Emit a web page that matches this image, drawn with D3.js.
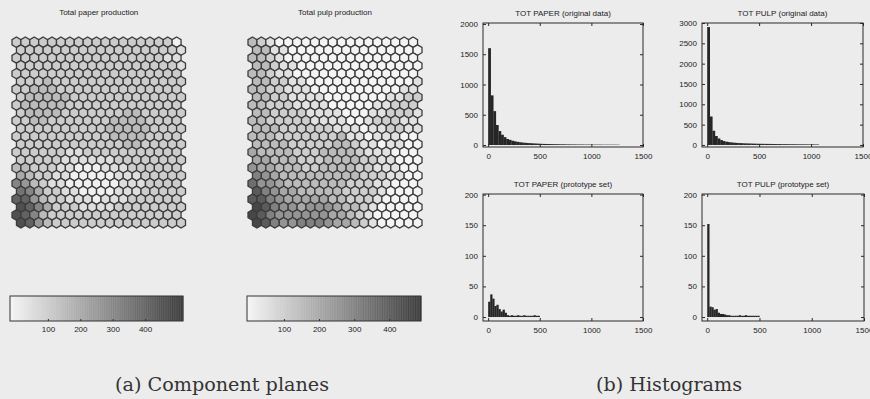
<!DOCTYPE html>
<html>
<head>
<meta charset="utf-8">
<script src="https://cdn.jsdelivr.net/npm/d3@7/dist/d3.min.js"></script>
<style>
  body { margin: 0; background: #ececec; }
  svg { display: block; }
  .ax text { font-family: "Liberation Sans", Arial, sans-serif; font-size: 8px; fill: #222; }
  .ttl { font-family: "Liberation Sans", Arial, sans-serif; font-size: 8px; fill: #222; }
  .cap { font-family: "DejaVu Serif", "Liberation Serif", serif; font-size: 19px; fill: #333; }
</style>
</head>
<body>
<svg id="fig" width="870" height="399"></svg>
<script>
// SOM component planes, one digit per hexagon (value = digit * 50), top row first
const paperMap = [
  "2222222222222222220",
  "2222222222222222221",
  "2222222222222222211",
  "2222222222222222221",
  "2222222222222222222",
  "2223222222222222222",
  "2233322222222222222",
  "2333332222222222222",
  "2333332222222222222",
  "2333322222223322222",
  "2233222222233332222",
  "2222222222333332222",
  "2222222222233332222",
  "2222222222223322222",
  "2222221122222222222",
  "2222211111122222222",
  "3322211000111222222",
  "4322110000011122222",
  "6532110000001112222",
  "7642211000011122222",
  "8853221110111222222",
  "9864222111122222222",
  "9863222222222222222",
  "9853222222222222222"
];
const pulpMap = [
  "3210000000000000000",
  "3311000000000000000",
  "3321000000000000000",
  "3321100000000000000",
  "3321100000000000000",
  "3322110000000000001",
  "3322111000000000011",
  "3322111100000001122",
  "3322211110000011222",
  "3322221111000112221",
  "3322222111100122211",
  "3332222221110112211",
  "3332222222311011100",
  "3333222223321101100",
  "4333322233332111000",
  "4433322233332211000",
  "5443332233332211100",
  "6543333333332221100",
  "7554333333322211000",
  "8654433333222210000",
  "8865444443322210000",
  "9865545554332100000",
  "9865555554432100000",
  "9865566654432100000"
];
const levelStep = 50;
const barTicks = [100, 200, 300, 400];

// histogram counts
const paperOrig = [1600, 820, 560, 330, 230, 170, 130, 100, 85, 70, 60, 52, 45, 40, 36, 32, 30, 27, 25, 22,
  20, 18, 17, 16, 15, 14, 13, 12, 12, 11, 10, 10, 9, 9, 8, 8, 8, 7, 7, 7, 6, 6, 6, 6, 5, 5, 5, 5, 5, 5, 4];
const pulpOrig = [2900, 700, 350, 220, 160, 120, 95, 80, 70, 62, 55, 50, 46, 43, 40, 38, 36, 34, 32, 30,
  29, 28, 27, 26, 25, 24, 23, 22, 21, 20, 20, 19, 18, 18, 17, 16, 16, 15, 15, 14, 14, 13, 12];
const paperProto = [25, 37, 30, 18, 20, 13, 9, 12, 7, 3, 2, 3, 2, 2, 3, 2, 2, 3, 2, 2, 2, 2, 3, 2, 2];
const pulpProto = [152, 17, 16, 12, 13, 7, 5, 5, 4, 3, 3, 2, 2, 2, 2, 3, 2, 2, 3, 2, 2, 2, 2, 2, 2];
const origBin = 25, protoBin = 20;
const xTicks = [0, 500, 1000, 1500];

const svg = d3.select("#fig");
const fmt = d3.format("d");

function drawMap(rows, o) {
  const nRows = rows.length, nCols = rows[0].length;
  const w = (o.right - o.left) / (nCols + 0.5);
  const h = (o.bottom - o.top) / (0.75 * (nRows - 1) + 1);
  const x = d3.scaleLinear().domain([0, nCols + 0.5]).range([o.left, o.right]);
  const y = d3.scaleLinear().domain([0, nRows - 1]).range([o.top + h / 2, o.bottom - h / 2]);
  const color = d3.scaleLinear().domain(o.cdom).range(["#f6f6f6", "#383838"]).clamp(true);
  const hex = [[0, -h / 2], [w / 2, -h / 4], [w / 2, h / 4], [0, h / 2], [-w / 2, h / 4], [-w / 2, -h / 4]];
  const hexPath = "M" + hex.map(p => p.join(",")).join("L") + "Z";

  const cells = [];
  rows.forEach((row, r) => row.split("").forEach((c, k) => cells.push({ r, k, v: +c * levelStep })));

  const g = svg.append("g");
  g.selectAll("path")
    .data(cells)
    .join("path")
    .attr("transform", d => `translate(${x(d.k + 0.5 + (d.r % 2 ? 0.5 : 0))},${y(d.r)})`)
    .attr("d", hexPath)
    .attr("fill", d => color(d.v))
    .attr("stroke", "#3c3c3c")
    .attr("stroke-width", 1.3);

  svg.append("text").attr("class", "ttl")
    .attr("x", (o.left + o.right) / 2).attr("y", 15)
    .attr("text-anchor", "middle").text(o.title);

  // colorbar
  const cb = d3.scaleLinear().domain(o.cdom).range([o.cbLeft, o.cbRight]);
  const steps = d3.range(o.cdom[0], o.cdom[1], 2);
  const cg = svg.append("g");
  cg.selectAll("rect")
    .data(steps)
    .join("rect")
    .attr("x", d => cb(d))
    .attr("y", 296)
    .attr("width", d => cb(Math.min(d + 2, o.cdom[1])) - cb(d) + 0.3)
    .attr("height", 25)
    .attr("fill", d => color(d));
  cg.append("rect")
    .attr("x", o.cbLeft).attr("y", 296)
    .attr("width", o.cbRight - o.cbLeft).attr("height", 25)
    .attr("fill", "none").attr("stroke", "#333").attr("stroke-width", 1);
  const axis = svg.append("g").attr("class", "ax")
    .attr("transform", "translate(0,321)")
    .call(d3.axisBottom(cb).tickValues(barTicks).tickSize(-2).tickPadding(5).tickFormat(fmt));
  axis.select(".domain").remove();
  axis.selectAll("line").attr("stroke", "#333");
}

drawMap(paperMap, { left: 12, right: 185.5, top: 37, bottom: 228, cdom: [-17, 517],
  cbLeft: 10, cbRight: 183, title: "Total paper production" });
drawMap(pulpMap, { left: 248, right: 422, top: 37, bottom: 228, cdom: [-5, 490],
  cbLeft: 247, cbRight: 421, title: "Total pulp production" });

function drawHist(bins, binW, o) {
  const x = d3.scaleLinear().domain([-50, 1500]).range([o.left, o.right]);
  const y = d3.scaleLinear().domain(o.ydom).range([o.bottom, o.top]);
  const g = svg.append("g");

  g.selectAll("rect")
    .data(bins)
    .join("rect")
    .attr("x", (d, i) => x(i * binW))
    .attr("width", (d, i) => x((i + 1) * binW) - x(i * binW) + 0.2)
    .attr("y", d => y(d))
    .attr("height", d => y(0) - y(d))
    .attr("fill", "#262626");

  g.append("rect")
    .attr("x", o.left).attr("y", o.top)
    .attr("width", o.right - o.left).attr("height", o.bottom - o.top)
    .attr("fill", "none").attr("stroke", "#2a2a2a").attr("stroke-width", 1);

  const ax = [
    g.append("g").attr("transform", `translate(0,${o.bottom})`)
      .call(d3.axisBottom(x).tickValues(xTicks).tickSize(-3).tickPadding(6).tickFormat(fmt)),
    g.append("g").attr("transform", `translate(0,${o.top})`)
      .call(d3.axisTop(x).tickValues(xTicks).tickSize(-3).tickFormat("")),
    g.append("g").attr("transform", `translate(${o.left},0)`)
      .call(d3.axisLeft(y).tickValues(o.yticks).tickSize(-3).tickPadding(5).tickFormat(fmt)),
    g.append("g").attr("transform", `translate(${o.right},0)`)
      .call(d3.axisRight(y).tickValues(o.yticks).tickSize(-3).tickFormat(""))
  ];
  ax.forEach(a => {
    a.attr("class", "ax");
    a.select(".domain").remove();
    a.selectAll("line").attr("stroke", "#2a2a2a");
  });

  svg.append("text").attr("class", "ttl")
    .attr("x", (o.left + o.right) / 2).attr("y", o.top - 7)
    .attr("text-anchor", "middle").text(o.title);
}

drawHist(paperOrig, origBin, { left: 483, right: 643, top: 23, bottom: 147, ydom: [-33, 2016],
  yticks: [0, 500, 1000, 1500, 2000], title: "TOT PAPER (original data)" });
drawHist(pulpOrig, origBin, { left: 702, right: 863, top: 23, bottom: 147, ydom: [-50, 3000],
  yticks: [0, 500, 1000, 1500, 2000, 2500, 3000], title: "TOT PULP (original data)" });
drawHist(paperProto, protoBin, { left: 483, right: 643, top: 194, bottom: 321, ydom: [-6.5, 201],
  yticks: [0, 50, 100, 150, 200], title: "TOT PAPER (prototype set)" });
drawHist(pulpProto, protoBin, { left: 702, right: 864, top: 194, bottom: 321, ydom: [-6.5, 201],
  yticks: [0, 50, 100, 150, 200], title: "TOT PULP (prototype set)" });

// sub-figure captions
svg.append("text").attr("class", "cap")
  .attr("x", 115).attr("y", 391)
  .attr("textLength", 214).attr("lengthAdjust", "spacingAndGlyphs")
  .text("(a) Component planes");
svg.append("text").attr("class", "cap")
  .attr("x", 596).attr("y", 391)
  .attr("textLength", 146).attr("lengthAdjust", "spacingAndGlyphs")
  .text("(b) Histograms");
</script>
</body>
</html>
